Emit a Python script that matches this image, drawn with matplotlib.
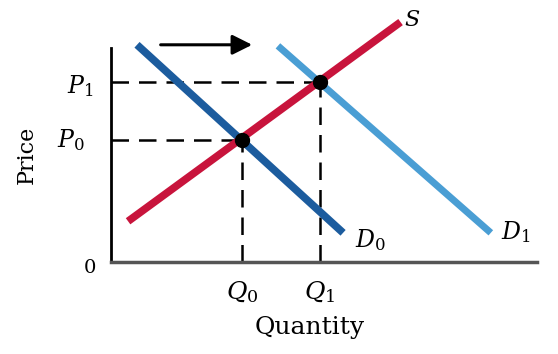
import matplotlib.pyplot as plt

plt.rcParams['font.family'] = ['DejaVu Serif']
plt.rcParams['mathtext.fontset'] = 'dejavuserif'

# equilibrium prices / quantities
Q0, Q1 = 3.08, 4.9
P0, P1 = 5.7, 8.38

# curve end points (quantity, price)
s_q = [0.4, 6.8]
s_p = [1.9, 11.2]
d0_q = [0.61, 5.45]
d0_p = [10.14, 1.36]
d1_q = [3.92, 8.92]
d1_p = [10.09, 1.36]

# shift arrow
arrow_q = [1.1, 3.38]
arrow_p = 10.14

fig = plt.figure(figsize=(5.58, 3.54), dpi=100)
ax = fig.add_axes([0.199, 0.260, 0.763, 0.605])
ax.set_xlim(0, 10)
ax.set_ylim(0, 10)

for side in ['top', 'right']:
    ax.spines[side].set_visible(False)
ax.spines['left'].set_linewidth(2)
ax.spines['bottom'].set_linewidth(2.5)
ax.spines['bottom'].set_color('#555555')
ax.set_xticks([])
ax.set_yticks([])

# dashed guides
dash = dict(color='black', lw=1.8, ls=(0, (7, 4)), zorder=2)
ax.plot([0, Q0], [P0, P0], **dash)
ax.plot([Q0, Q0], [0, P0], **dash)
ax.plot([0, Q1], [P1, P1], **dash)
ax.plot([Q1, Q1], [0, P1], **dash)

ax.plot(d1_q, d1_p, color='#4a9ed4', lw=5, solid_capstyle='butt', clip_on=False, zorder=3)
ax.plot(d0_q, d0_p, color='#1c5c9e', lw=5.5, solid_capstyle='butt', clip_on=False, zorder=3)
ax.plot(s_q, s_p, color='#c8143c', lw=5.5, solid_capstyle='butt', clip_on=False, zorder=4)

ax.plot([Q0, Q1], [P0, P1], 'o', color='black', ms=10, zorder=5)

ax.annotate('', xy=(arrow_q[1], arrow_p), xytext=(arrow_q[0], arrow_p),
            arrowprops=dict(arrowstyle='-|>', color='black', lw=2.2,
                            mutation_scale=30),
            annotation_clip=False)

ax.text(7.07, 11.3, '$S$', fontsize=16, ha='center', va='center')
ax.text(6.1, 1.03, '$D_0$', fontsize=17, ha='center', va='center')
ax.text(9.5, 1.4, '$D_1$', fontsize=17, ha='center', va='center')
ax.text(-0.72, 8.2, '$P_1$', fontsize=17, ha='center', va='center')
ax.text(-0.95, 5.7, '$P_0$', fontsize=17, ha='center', va='center')
ax.text(-0.49, -0.28, '0', fontsize=14, ha='center', va='center')
ax.text(Q0, -1.4, '$Q_0$', fontsize=18, ha='center', va='center')
ax.text(Q1, -1.4, '$Q_1$', fontsize=18, ha='center', va='center')
ax.text(4.67, -3.08, 'Quantity', fontsize=18, ha='center', va='center')
ax.text(-1.97, 5.0, 'Price', fontsize=16, ha='center', va='center', rotation=90)

fig.savefig('out.png', dpi=100)
